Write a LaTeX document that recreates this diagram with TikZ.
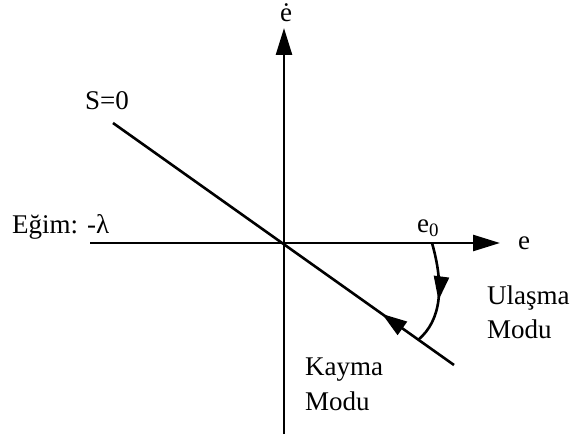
\documentclass[tikz,border=0pt]{standalone}
\usepackage{fontspec}
\setmainfont{Liberation Serif}
\usetikzlibrary{arrows.meta,decorations.markings}
\newcommand{\lblsize}{\fontsize{27pt}{32pt}\selectfont}
\begin{document}
\begin{tikzpicture}[x=1pt,y=-1pt,
  axis/.style={line width=2.6pt,-{Triangle[length=27pt,width=16pt]}},
  sline/.style={line width=2.6pt},
  lbl/.style={font=\lblsize,inner sep=0pt}]
\useasboundingbox (0,0) rectangle (574,441);
\coordinate (O) at (284,243);
\coordinate (xl) at (90,243);
\coordinate (xr) at (500,243);
\coordinate (yt) at (284,28);
\coordinate (yb) at (284,434);
\coordinate (sa) at (113,123);
\coordinate (sb) at (454,365);
\coordinate (c0) at (432,243);
\coordinate (c1) at (418,340);
\draw[axis] (xl) -- (xr);
\draw[axis] (yb) -- (yt);
\draw[sline,decoration={markings,mark=at position 0.789 with {\arrowreversed{Triangle[length=25pt,width=16pt]}}},postaction=decorate]
  (sa) -- (sb);
\draw[sline,decoration={markings,mark=at position 0.56 with {\arrow{Triangle[length=24pt,width=15pt]}}},postaction=decorate]
  (c0) .. controls (444,285) and (442,320) .. (c1);
\node[lbl,anchor=base] (edot) at (286,22) {ė};
\node[lbl,anchor=base west] (s0) at (85,110) {S=0};
\node[lbl,anchor=base west] (egim) at (12,234) {Eğim: -λ};
\node[lbl,anchor=base west] (e0) at (417,233) {e\textsubscript{0}};
\node[lbl,anchor=base west] (e) at (518,250) {e};
\node[lbl,anchor=base west] (u1) at (487,305) {Ulaşma};
\node[lbl,anchor=base west] (u2) at (487,338) {Modu};
\node[lbl,anchor=base west] (k1) at (305,375) {Kayma};
\node[lbl,anchor=base west] (k2) at (305,410) {Modu};
\end{tikzpicture}
\end{document}
